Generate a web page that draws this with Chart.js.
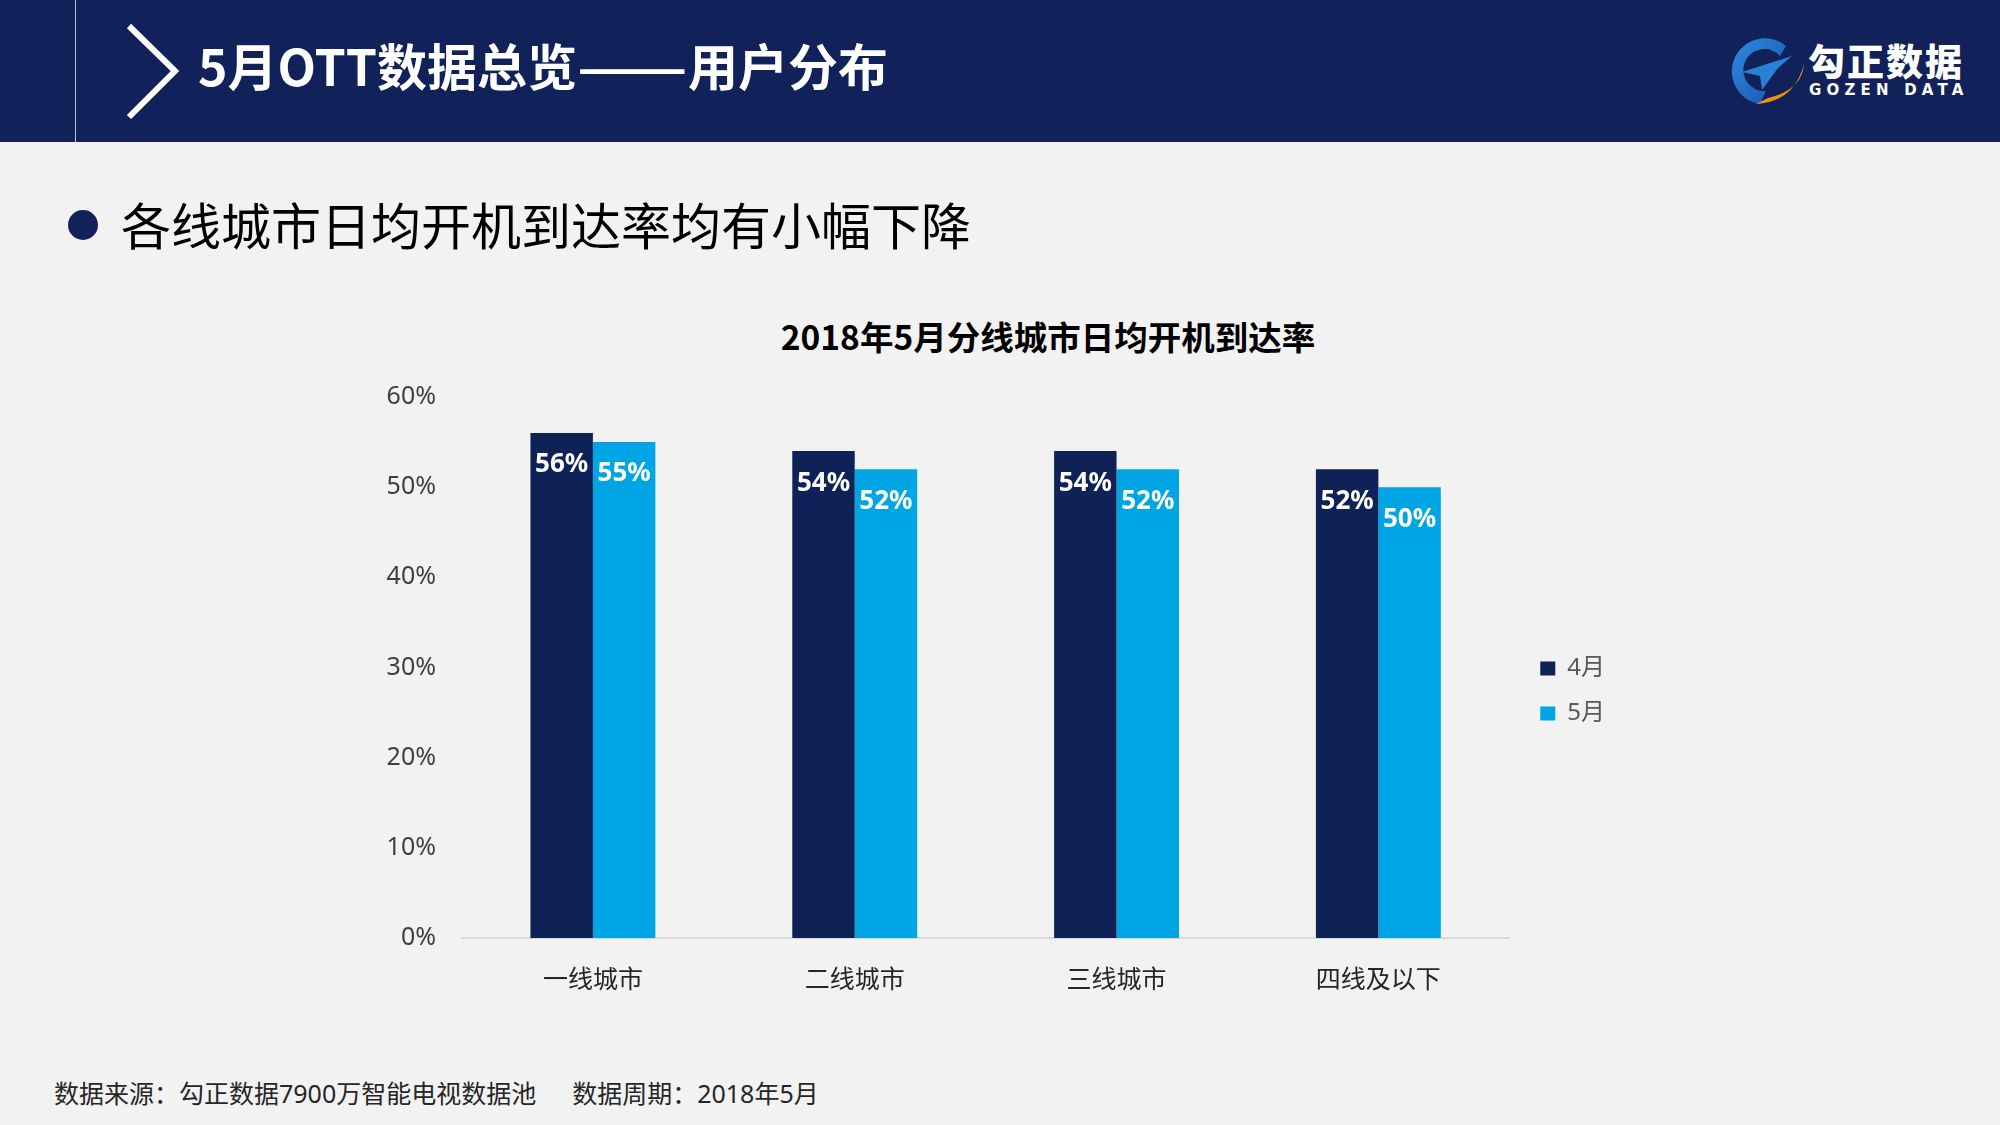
<!DOCTYPE html>
<html>
<head>
<meta charset="utf-8">
<script src="https://cdn.jsdelivr.net/npm/chart.js@4"></script>
<style>
  html, body { margin: 0; padding: 0; }
  body {
    width: 2000px; height: 1125px; position: relative; overflow: hidden;
    background: #f2f2f2;
    font-family: "Noto Sans", "Noto Sans CJK SC", sans-serif;
  }
  .header { position: absolute; left: 0; top: 0; width: 2000px; height: 142px; background: #102259; }
  .vline { position: absolute; left: 75px; top: 0; width: 1px; height: 142px; background: rgba(255,255,255,0.7); }
  .page-title {
    position: absolute; left: 198px; top: 34px; line-height: 60px; white-space: nowrap;
    font-size: 50px; font-weight: 700; color: #fff;
    font-family: "Noto Sans CJK SC", sans-serif;
  }
  .page-title .dash { display: inline-block; transform: scaleX(1.3); transform-origin: left center; margin-right: 26px; }
  .bullet { position: absolute; left: 68px; top: 210px; width: 30px; height: 30px; border-radius: 50%; background: #102259; }
  .subtitle {
    position: absolute; left: 121px; top: 191px; line-height: 64px;
    font-size: 50px; color: #000; font-family: "Noto Sans CJK SC", sans-serif;
  }
  .chart-title {
    position: absolute; left: 748px; width: 600px; top: 313px; line-height: 46px; text-align: center;
    font-size: 33.5px; font-weight: 700; color: #000; font-family: "Noto Sans CJK SC", sans-serif;
  }
  .footer {
    position: absolute; left: 54px; top: 1076px; line-height: 34px;
    font-size: 25px; color: #262626; white-space: nowrap;
  }
  .footer .period { margin-left: 36px; }
  .logo-cn {
    position: absolute; left: 1808px; top: 38px; line-height: 44px;
    font-size: 37px; font-weight: 900; color: #fff; letter-spacing: 2px;
    font-family: "Noto Sans CJK SC", sans-serif;
  }
  .logo-en {
    position: absolute; left: 1809px; top: 80px; line-height: 20px;
    font-size: 15px; font-weight: 700; color: #fff; letter-spacing: 5.2px;
    font-family: "DejaVu Sans", sans-serif;
  }
  #chart { position: absolute; left: 300px; top: 364px; }
</style>
</head>
<body>
<div class="header"></div>
<div class="vline"></div>
<svg style="position:absolute;left:0;top:0" width="260" height="142">
  <polyline points="129,26 175,71 129,117" fill="none" stroke="#fff" stroke-width="6"/>
</svg>
<div class="page-title">5月OTT数据总览<span class="dash">——</span>用户分布</div>

<svg style="position:absolute;left:1722px;top:38px" width="86" height="70">
  <defs>
    <linearGradient id="gb" x1="0" y1="0" x2="1" y2="1">
      <stop offset="0" stop-color="#2a8de0"/>
      <stop offset="1" stop-color="#1c4fa8"/>
    </linearGradient>
  </defs>
  <path d="M 64 8 A 33 33 0 1 0 38 66 L 44 53 A 21 21 0 1 1 58 18 Z" fill="url(#gb)"/>
  <polygon points="20,34 70,18 56,30 40,52 38,38" fill="#2a7fd6"/>
  <path d="M 34 66 Q 72 64 82 26 Q 80 52 46 60 Z" fill="#f0900e"/>
</svg>
<div class="logo-cn">勾正数据</div>
<div class="logo-en">GOZEN DATA</div>

<div class="bullet"></div>
<div class="subtitle">各线城市日均开机到达率均有小幅下降</div>

<div class="chart-title">2018年5月分线城市日均开机到达率</div>
<canvas id="chart" width="1420" height="652"></canvas>

<div class="footer"><span>数据来源：勾正数据7900万智能电视数据池</span><span class="period">数据周期：2018年5月</span></div>

<script>
const cities = ["一线城市", "二线城市", "三线城市", "四线及以下"];
const seriesNames = ["4月", "5月"];
const aprilValues = [56, 54, 54, 52];
const mayValues = [55, 52, 52, 50];
const yTicks = [0, 10, 20, 30, 40, 50, 60];

const FONT = '"Noto Sans", "Noto Sans CJK SC", sans-serif';

// white percentage labels just inside the top of each bar
const barLabels = {
  id: "barLabels",
  afterDatasetsDraw(chart) {
    const ctx = chart.ctx;
    ctx.save();
    ctx.font = "bold 26px " + FONT;
    ctx.fillStyle = "#ffffff";
    ctx.textAlign = "center";
    ctx.textBaseline = "middle";
    chart.data.datasets.forEach((ds, i) => {
      chart.getDatasetMeta(i).data.forEach((bar, j) => {
        ctx.fillText(ds.data[j] + "%", bar.x, bar.y + 32);
      });
    });
    ctx.restore();
  },
};

// legend sits a little further right than Chart.js puts it
const legendNudge = {
  id: "legendNudge",
  afterLayout(chart) {
    const lg = chart.legend;
    lg.left += 10; lg.right += 10;
    lg.top += 1; lg.bottom += 1;
  },
};

new Chart(document.getElementById("chart"), {
  type: "bar",
  data: {
    labels: cities,
    datasets: [
      { label: seriesNames[0], data: aprilValues, backgroundColor: "#0f2258" },
      { label: seriesNames[1], data: mayValues, backgroundColor: "#00a5e5" },
    ],
  },
  options: {
    responsive: false,
    animation: false,
    devicePixelRatio: 1,
    barPercentage: 1,
    categoryPercentage: 0.477,
    layout: { padding: { left: 0, right: 115, top: 0, bottom: 0 } },
    scales: {
      y: {
        min: 0,
        max: 60,
        afterFit: (s) => { s.width = 162; },
        afterBuildTicks: (s) => { s.ticks = yTicks.map((v) => ({ value: v })); },
        grid: { display: false },
        border: { display: false },
        ticks: {
          padding: 18,
          color: "#404040",
          font: { family: FONT, size: 25 },
          callback: (v) => v + "%",
        },
      },
      x: {
        grid: { display: false },
        border: { display: true, color: "#d9d9d9", width: 2 },
        ticks: {
          padding: 20,
          color: "#262626",
          font: { family: FONT, size: 25 },
        },
      },
    },
    plugins: {
      title: { display: false },
      tooltip: { enabled: false },
      legend: {
        position: "right",
        align: "center",
        labels: {
          boxWidth: 15,
          boxHeight: 14,
          padding: 21,
          color: "#595959",
          font: { family: FONT, size: 24 },
        },
      },
    },
  },
  plugins: [barLabels, legendNudge],
});
</script>
</body>
</html>
